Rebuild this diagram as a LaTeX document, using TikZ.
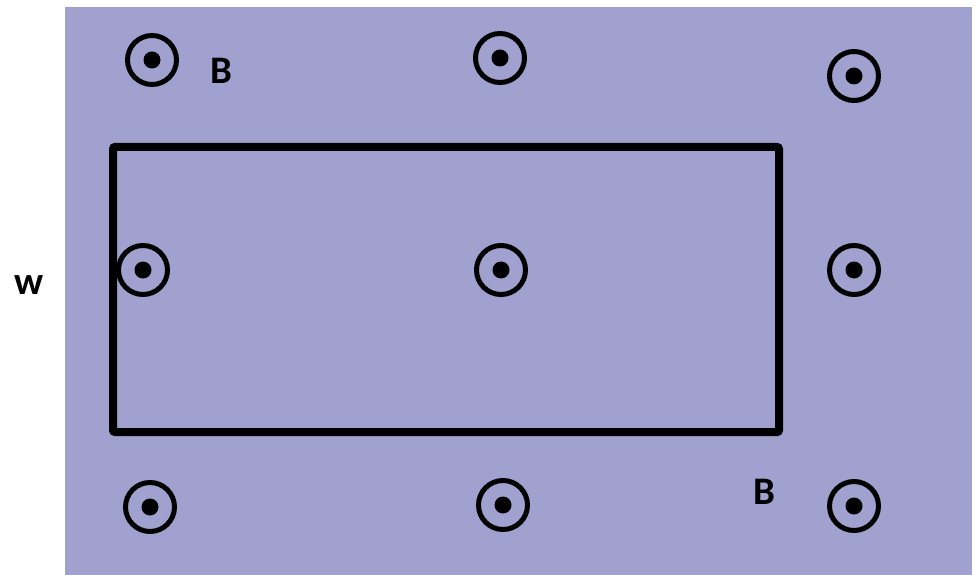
\documentclass[tikz,border=0pt]{standalone}
\usepackage{fontspec}
\setmainfont{Carlito}
\definecolor{bgpurple}{HTML}{A1A1D0}
\begin{document}
\begin{tikzpicture}[x=1pt,y=-1pt,
  fieldout/.style={circle,draw=black,line width=5pt,minimum size=49pt,inner sep=0pt},
  fielddot/.style={circle,fill=black,minimum size=17pt,inner sep=0pt},
  lab/.style={font=\bfseries\fontsize{39}{42}\selectfont,text=black,inner sep=0pt}]
\useasboundingbox (0,0) rectangle (977,575);
\fill[bgpurple] (65,7) rectangle (972,575);
\draw[line width=8pt,rounded corners=2pt] (113,147) rectangle (779,432);
\foreach \n/\x/\y in {a/152/60,b/500/58,c/854/76,d/143/270,e/501/270,f/854/270,g/150/507,h/503/505,i/854/506}{
  \node[fieldout] (o\n) at (\x,\y) {};
  \node[fielddot] (d\n) at (\x,\y) {};
}
\node[lab] (b1) at (221,71) {B};
\node[lab] (b2) at (764,492) {B};
\node[lab] (w) at (29,285) {w};
\end{tikzpicture}
\end{document}
